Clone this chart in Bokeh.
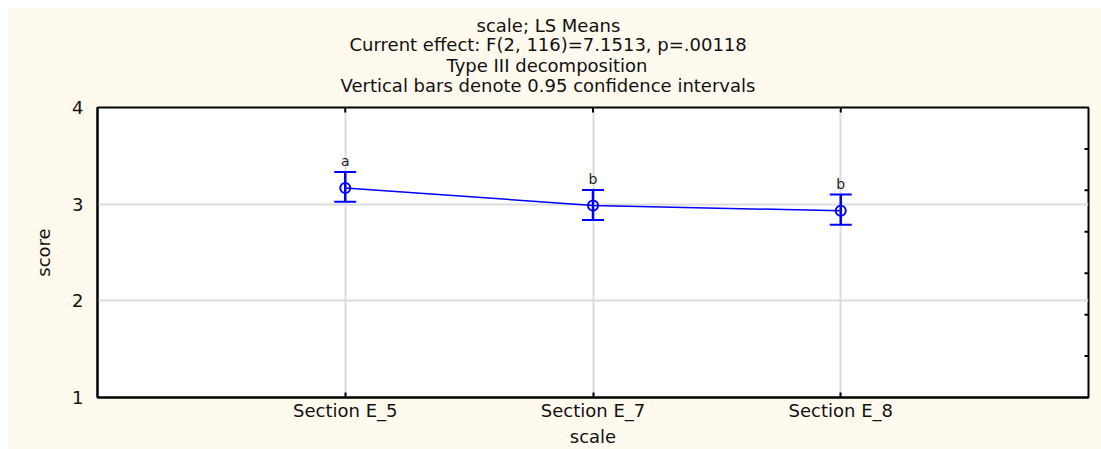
import math
from bokeh.plotting import figure
from bokeh.models import Range1d, FixedTicker, Whisker, TeeHead, ColumnDataSource, Title
from bokeh.core.properties import value
from bokeh.embed import file_html
from bokeh.resources import INLINE

# ---- data ----
categories = ["Section E_5", "Section E_7", "Section E_8"]
ls_means = [3.168, 2.987, 2.931]
ci_upper = [3.333, 3.147, 3.100]
ci_lower = [3.024, 2.835, 2.787]
group_letters = ["a", "b", "b"]
y_ticks = [1, 2, 3, 4]
title_lines = [
    "scale; LS Means",
    "Current effect: F(2, 116)=7.1513, p=.00118",
    "Type III decomposition",
    "Vertical bars denote 0.95 confidence intervals",
]
x_label = "scale"
y_label = "score"

# ---- styling / layout ----
FONT = "DejaVu Sans"
BG = "#FFF9EE"
BLUE = "#0000FF"
FS_PX = 18
FS = f"{FS_PX}px"
TXT = "#111111"
W, H = 1094, 442
BL, BR, BT, BB = 90, 13, 100, 51
# approximate advance widths (em) of the title lines in DejaVu Sans, used to centre
# the lines on the whole graph (the reference centres them left of the plot centre)
title_em = [7.99, 22.13, 11.32, 23.13]
title_center_from_frame_left = 451
# per-line (vertical_align, standoff) so that the stacked title panels leave a gap
# above the frame and keep ~20px line spacing
title_valign = ["bottom", "top", "bottom", "top"]
title_standoff = [-17, 13, -21, 19]

xpos = list(range(1, len(categories) + 1))
right_ticks = [1 + 3 * k / 7 for k in range(1, 7)]
src = ColumnDataSource(dict(x=xpos, mean=ls_means, upper=ci_upper, lower=ci_lower, letter=group_letters))

x_rng = Range1d(0, len(categories) + 1)
y_rng = Range1d(y_ticks[0], y_ticks[-1])

p = figure(width=W, height=H, margin=(7, 0, 0, 7), output_backend="svg", toolbar_location=None,
           x_range=x_rng, y_range=y_rng,
           min_border_left=BL, min_border_right=BR, min_border_top=BT, min_border_bottom=BB)
p.border_fill_color = BG
p.background_fill_color = "white"
p.outline_line_color = "black"
p.outline_line_width = 2

# axes
xa = p.below[0]
ya = p.left[0]
xa.ticker = FixedTicker(ticks=xpos)
xa.major_label_overrides = {i: c for i, c in zip(xpos, categories)}
xa.axis_label = x_label
ya.ticker = FixedTicker(ticks=y_ticks)
ya.axis_label = y_label
for ax in (xa, ya):
    ax.axis_line_color = "black"
    ax.axis_line_width = 2
    ax.major_tick_out = 0
    ax.minor_tick_out = 0
    ax.minor_tick_in = 0
    ax.major_label_text_font = FONT
    ax.major_label_text_font_size = FS
    ax.major_label_text_color = TXT
    ax.axis_label_text_font = FONT
    ax.axis_label_text_font_size = FS
    ax.axis_label_text_font_style = "normal"
    ax.axis_label_text_color = TXT
    ax.major_tick_line_color = "black"
    ax.major_tick_line_width = 2
xa.major_tick_in = 5
ya.major_tick_in = 0
xa.major_label_standoff = 2
xa.axis_label_standoff = 2
ya.major_label_standoff = 14
ya.axis_label_standoff = 15

p.xgrid.ticker = FixedTicker(ticks=xpos)
p.ygrid.ticker = FixedTicker(ticks=y_ticks)
for g in (p.xgrid, p.ygrid):
    g.grid_line_color = "#dcdcdc"
    g.grid_line_width = 2

# title lines: the last added is outermost, so add from the bottom line up
for line, em, va, so in reversed(list(zip(title_lines, title_em, title_valign, title_standoff))):
    off = int(round(title_center_from_frame_left - em * FS_PX / 2))
    p.add_layout(Title(text=line, align="left", offset=off, standoff=so, vertical_align=va,
                       text_font=FONT, text_font_size=FS, text_font_style="normal",
                       text_color=TXT), "above")

# inward ticks on the top and right frame edges
p.scatter(xpos, [y_rng.end] * len(xpos), marker="dash", angle=math.pi / 2, size=10,
          line_color="black", line_width=2)
p.scatter([x_rng.end] * len(right_ticks), right_ticks, marker="dash", size=8,
          line_color="black", line_width=2)

# error bars
w = Whisker(source=src, base="x", upper="upper", lower="lower", line_color=BLUE, line_width=2.5,
            upper_head=TeeHead(size=22, line_color=BLUE, line_width=2),
            lower_head=TeeHead(size=22, line_color=BLUE, line_width=2))
p.add_layout(w)

p.line("x", "mean", source=src, line_color=BLUE, line_width=1.5)
p.scatter("x", "mean", source=src, marker="circle", size=10, fill_color=None,
          line_color=BLUE, line_width=2)
p.text("x", "upper", text="letter", source=src, text_align="center", text_baseline="bottom",
       y_offset=-3, text_font=value(FONT), text_font_size="14px", text_color="#222222")

open("out.html", "w").write(file_html(p, INLINE))
